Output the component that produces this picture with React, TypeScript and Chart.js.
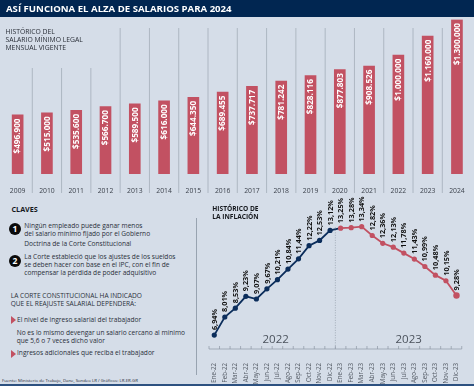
import React, { useEffect, useRef } from "react";
import { Chart, registerables } from "chart.js";

Chart.register(...registerables);

const years = ["2009","2010","2011","2012","2013","2014","2015","2016","2017","2018","2019","2020","2021","2022","2023","2024"];
const salaries = [496900,515000,535600,566700,589500,616000,644350,689455,737717,781242,828116,877803,908526,1000000,1160000,1300000];
const months = ["Ene-22","Feb-22","Mar-22","Abr-22","May-22","Jun-22","Jul-22","Ago-22","Sep-22","Oct-22","Nov-22","Dic-22","Ene-23","Feb-23","Mar-23","Abr-23","May-23","Jun-23","Jul-23","Ago-23","Sep-23","Oct-23","Nov-23","Dic-23"];
const inflation = [6.94,8.01,8.53,9.23,9.07,9.67,10.21,10.84,11.44,12.22,12.53,13.12,13.25,13.28,13.34,12.82,12.36,12.13,11.78,11.43,10.99,10.48,10.15,9.28];
const clavesText = [
  "Ningún empleado puede ganar menos",
  "del salario mínimo fijado por el Gobierno",
];

const FONT = '"Open Sans", sans-serif';
const NAVY = "#0b2d5b";
const RED = "#c25162";
const BG = "#d5dde8";

const money = (v: number) => "$" + v.toLocaleString("de-DE");
const pct = (v: number) => v.toFixed(2).replace(".", ",") + "%";

const barPlugin = {
  id: "barExtras",
  afterDatasetsDraw(chart: any) {
    const { ctx } = chart;
    const x = chart.scales.x;
    const y = chart.scales.y;
    const band = x.getPixelForValue(1) - x.getPixelForValue(0);
    ctx.save();
    ctx.strokeStyle = "#a3adb9";
    ctx.lineWidth = 0.8;
    for (let i = 0; i < years.length - 1; i++) {
      const px = x.getPixelForValue(i) + band / 2;
      ctx.beginPath();
      ctx.moveTo(px, i < 3 ? 68 : 28);
      ctx.lineTo(px, 193);
      ctx.stroke();
    }
    ctx.fillStyle = "#ffffff";
    ctx.font = `700 8.2px ${FONT}`;
    ctx.textAlign = "right";
    ctx.textBaseline = "middle";
    salaries.forEach((v, i) => {
      ctx.save();
      ctx.translate(x.getPixelForValue(i), y.getPixelForValue(v) + 3.5);
      ctx.rotate(-Math.PI / 2);
      ctx.fillText(money(v), 0, 0.5);
      ctx.restore();
    });
    ctx.restore();
  },
};

const linePlugin = {
  id: "lineExtras",
  afterDatasetsDraw(chart: any) {
    const { ctx } = chart;
    const x = chart.scales.x;
    const y = chart.scales.y;
    const band = x.getPixelForValue(1) - x.getPixelForValue(0);
    const base = chart.chartArea.bottom;
    ctx.save();
    ctx.strokeStyle = "#8c96a3";
    ctx.lineWidth = 0.7;
    ctx.beginPath();
    ctx.moveTo(x.getPixelForValue(0) - band / 2, base);
    ctx.lineTo(x.getPixelForValue(23) + band / 2, base);
    for (let i = 0; i <= 24; i++) {
      const px = x.getPixelForValue(0) - band / 2 + i * band;
      ctx.moveTo(px, base);
      ctx.lineTo(px, base - 3);
    }
    ctx.stroke();
    ctx.setLineDash([1, 1.5]);
    ctx.beginPath();
    const mid = x.getPixelForValue(11) + band / 2;
    ctx.moveTo(mid, y.getPixelForValue(13.3));
    ctx.lineTo(mid, base);
    ctx.stroke();
    ctx.setLineDash([]);
    ctx.fillStyle = "#111111";
    ctx.font = `700 7.3px ${FONT}`;
    ctx.textAlign = "left";
    ctx.textBaseline = "middle";
    inflation.forEach((v, i) => {
      ctx.save();
      ctx.translate(x.getPixelForValue(i), y.getPixelForValue(v) - 5);
      ctx.rotate(-Math.PI / 2);
      ctx.fillText(pct(v), 0, 0.5);
      ctx.restore();
    });
    ctx.restore();
  },
};

function text(
  s: string,
  left: number,
  top: number,
  size: number,
  extra: React.CSSProperties = {}
) {
  return (
    <div
      style={{
        position: "absolute",
        left,
        top,
        fontSize: size,
        lineHeight: `${size + 1.3}px`,
        whiteSpace: "pre",
        fontFamily: FONT,
        color: "#2a2f38",
        ...extra,
      }}
    >
      {s}
    </div>
  );
}

function Marker({ top }: { top: number }) {
  return (
    <div
      style={{
        position: "absolute",
        left: 11,
        top,
        width: 5,
        height: 8,
        background: RED,
        clipPath: "polygon(0 0, 100% 50%, 0 100%)",
      }}
    />
  );
}

function Badge({ n, top }: { n: string; top: number }) {
  return (
    <div
      style={{
        position: "absolute",
        left: 9,
        top,
        width: 12,
        height: 12,
        borderRadius: 6,
        background: "#0a0a0a",
        color: "#fff",
        fontFamily: FONT,
        fontWeight: 700,
        fontSize: 8.5,
        lineHeight: "12px",
        textAlign: "center",
      }}
    >
      {n}
    </div>
  );
}

export default function App() {
  const barRef = useRef<HTMLCanvasElement>(null);
  const lineRef = useRef<HTMLCanvasElement>(null);

  useEffect(() => {
    const bar = new Chart(barRef.current!, {
      type: "bar",
      data: {
        labels: years,
        datasets: [{ data: salaries, backgroundColor: RED, barThickness: 11 }],
      },
      options: {
        animation: false,
        responsive: false,
        layout: { padding: { left: 3, right: 2.4, top: 19.5, bottom: 0 } },
        plugins: { legend: { display: false }, tooltip: { enabled: false } },
        scales: {
          x: {
            grid: { display: false },
            border: { display: false },
            ticks: {
              color: "#3c424c",
              font: { family: FONT, size: 6.8 },
              padding: 5,
              maxRotation: 0,
              autoSkip: false,
            },
            afterFit: (s: any) => { s.height = 21; },
          },
          y: { display: false, min: 0, max: 1300000 },
        },
      },
      plugins: [barPlugin],
    } as any);

    const line = new Chart(lineRef.current!, {
      type: "line",
      data: {
        labels: months,
        datasets: [
          {
            data: inflation,
            borderColor: NAVY,
            borderWidth: 1.8,
            tension: 0,
            pointRadius: inflation.map((_, i) => (i === 23 ? 3.2 : 2.6)),
            pointBorderWidth: 0,
            pointBackgroundColor: inflation.map((_, i) => (i < 12 ? NAVY : RED)),
            segment: {
              borderColor: (c: any) => (c.p0DataIndex < 12 ? NAVY : RED),
            },
          },
        ],
      },
      options: {
        animation: false,
        responsive: false,
        layout: { padding: { left: 0.2, right: 0.5, top: 25.5, bottom: 0 } },
        plugins: { legend: { display: false }, tooltip: { enabled: false } },
        scales: {
          x: {
            offset: true,
            grid: { display: false },
            border: { display: false },
            ticks: {
              color: "#555c66",
              font: { family: FONT, size: 6.2 },
              padding: 6,
              minRotation: 90,
              maxRotation: 90,
              autoSkip: false,
            },
            afterFit: (s: any) => { s.height = 37; },
          },
          y: { display: false, min: 6.12, max: 14 },
        },
      },
      plugins: [linePlugin],
    } as any);

    return () => {
      bar.destroy();
      line.destroy();
    };
  }, []);

  return (
    <div
      style={{
        position: "absolute",
        left: 0,
        top: 0,
        width: 474,
        height: 386,
        overflow: "hidden",
        background: BG,
      }}
    >
      <div style={{ position: "absolute", left: 0, top: 0, width: 474, height: 17, background: "#012651" }} />
      <canvas
        ref={barRef}
        width={474}
        height={195}
        style={{ position: "absolute", left: 0, top: 0, width: 474, height: 195 }}
      />
      <canvas
        ref={lineRef}
        width={265}
        height={196}
        style={{ position: "absolute", left: 205, top: 190, width: 265, height: 196 }}
      />
      {text("ASÍ FUNCIONA EL ALZA DE SALARIOS PARA 2024", 6, 0, 9.6, { color: "#fff", fontWeight: 700, lineHeight: "17px" })}
      {text("HISTÓRICO DEL\nSALARIO MÍNIMO LEGAL\nMENSUAL VIGENTE", 5.5, 28.3, 6.8, { lineHeight: "8px" })}

      <div style={{ position: "absolute", left: 196, top: 218, width: 1.2, height: 157, background: "#98a3b0" }} />

      {text("CLAVES", 11.5, 205, 7.2, { fontWeight: 700, color: "#15181d" })}
      <Badge n="1" top={223} />
      {text(clavesText.join("\n"), 24.3, 222, 6.6, { lineHeight: "8px" })}
      {text("Doctrina de la Corte Constitucional", 24.3, 240.3, 6.6)}
      <Badge n="2" top={255} />
      {text("La Corte estableció que los ajustes de los sueldos\nse deben hacer con base en el IPC, con el fin de\ncompensar la pérdida de poder adquisitivo", 24.3, 253, 6.6, { lineHeight: "8px" })}
      {text("LA CORTE CONSTITUCIONAL HA INDICADO\nQUE EL REAJUSTE SALARIAL DEPENDERÁ:", 10.7, 292, 6.6, { lineHeight: "8px" })}
      <Marker top={316} />
      {text("El nivel de ingreso salarial del trabajador", 17, 316.3, 6.6)}
      {text("No es lo mismo devengar un salario cercano al mínimo\nque 5,6 o 7 veces dicho valor", 16.7, 328.7, 6.6, { lineHeight: "8px" })}
      <Marker top={350} />
      {text("Ingresos adicionales que reciba el trabajador", 17, 349.3, 6.6)}
      {text("Fuente: Ministerio de Trabajo, Dane, Sondeo LR / Gráficos: LR-ER-GR", 2, 377, 4.3, { lineHeight: "6px" })}

      {text("HISTÓRICO DE\nLA INFLACIÓN", 212.3, 205, 6.6, { fontWeight: 700, color: "#15181d", lineHeight: "8px" })}
      {text("2022", 262.5, 331, 11.5, { color: "#4b525c", lineHeight: "16px" })}
      {text("2023", 395.5, 331, 11.5, { color: "#4b525c", lineHeight: "16px" })}

      <div style={{ position: "absolute", left: 0, top: 384, width: 474, height: 2, background: "#2d5180" }} />
    </div>
  );
}
